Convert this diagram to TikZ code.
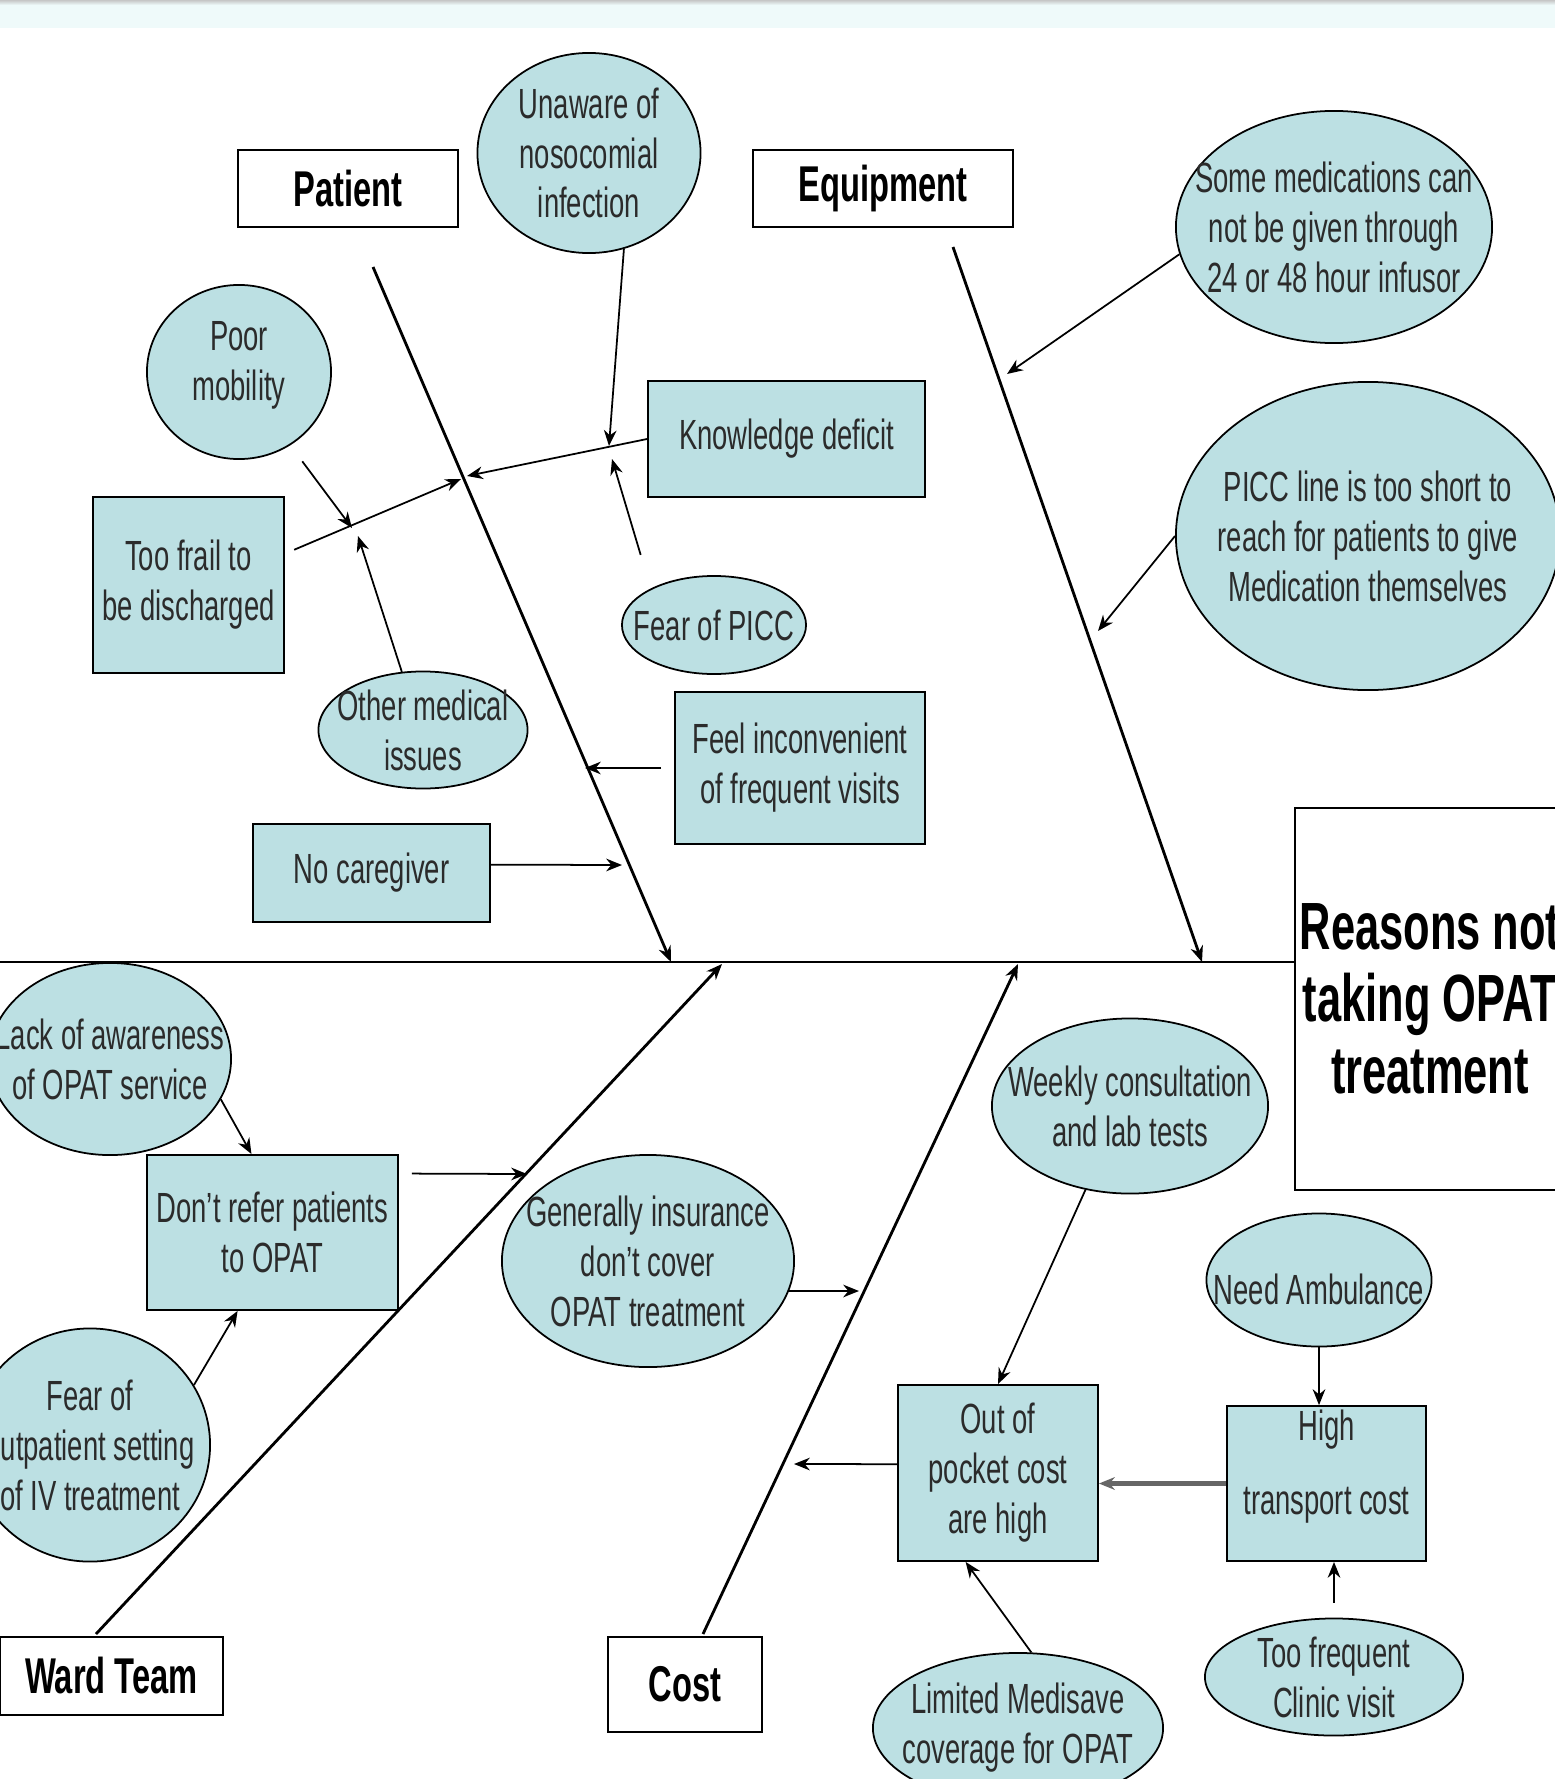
\documentclass[tikz,border=0pt]{standalone}
\usepackage{fontspec}
\setmainfont[FakeStretch=0.65]{Liberation Sans}
\usepackage{tikz}
\usetikzlibrary{shapes.geometric,arrows.meta,calc}
\definecolor{light_teal}{HTML}{BCE0E3}
\definecolor{top_band}{HTML}{EFFAFA}
\definecolor{text_grey}{HTML}{2B2B2B}

\begin{document}
\begin{tikzpicture}[x=0.01cm,y=-0.01cm,>={Stealth[length=4.5pt,width=3.6pt]},
    boite/.style={draw,line width=0.5pt,fill=light_teal,align=center,text=text_grey,font=\fontsize{12}{14.2}\selectfont,inner sep=0pt},
    bulle/.style={ellipse,draw,line width=0.5pt,fill=light_teal,align=center,text=text_grey,font=\fontsize{12}{14.2}\selectfont,inner sep=-20pt},
    categorie/.style={draw,line width=0.6pt,fill=white,font=\fontsize{14.3}{16}\selectfont\bfseries,inner sep=0pt},
    arete/.style={->,line width=0.8pt},
    fleche/.style={->,line width=0.5pt}]

    % Cadre de la page et bandeau du haut
    \useasboundingbox (0,0) rectangle (1555,1779);
    \fill[top_band] (0,0) rectangle (1555,28);
    \shade[top color=gray!45,bottom color=top_band] (0,0) rectangle (1555,5);

    % Catégories et effet
    \node[categorie,minimum width=2.19cm,minimum height=0.77cm] (patient) at (348,188.5) {Patient};
    \node[categorie,minimum width=2.6cm,minimum height=0.77cm] (equip) at (883,188.5) {Equipment};
    \node[categorie,minimum width=2.23cm,minimum height=0.78cm] (ward) at (111.5,1676) {Ward Team};
    \node[categorie,minimum width=1.54cm,minimum height=0.95cm] (cost) at (685,1684.5) {Cost};
    \node[categorie,minimum width=2.7cm,minimum height=3.82cm,align=center,font=\fontsize{19}{20.5}\selectfont\bfseries] (head) at (1430,999) {Reasons not\\taking OPAT\\treatment};

    % Arêtes principales
    \coordinate (spine_start) at (0,962);
    \coordinate (pat_top) at (373,267);
    \coordinate (pat_end) at (671,962);
    \coordinate (eq_top) at (953,247);
    \coordinate (eq_end) at (1202,962);
    \coordinate (ward_top) at (96,1634);
    \coordinate (ward_end) at (722,964);
    \coordinate (cost_top) at (703,1634);
    \coordinate (cost_end) at (1018,964);
    \draw[line width=0.8pt] (spine_start) -- (spine_start -| head.west);
    \draw[arete] (pat_top) -- (pat_end);
    \draw[arete] (eq_top) -- (eq_end);
    \draw[arete] (ward_top) -- (ward_end);
    \draw[arete] (cost_top) -- (cost_end);

    % Causes côté patient
    \node[bulle,minimum width=2.23cm,minimum height=2cm] (unaware) at (589,153) {Unaware of\\nosocomial\\infection};
    \node[boite,minimum width=2.77cm,minimum height=1.16cm] (kd) at (786.5,439) {Knowledge deficit};
    \node[bulle,minimum width=1.84cm,minimum height=0.98cm] (fearpicc) at (714,625) {Fear of PICC};
    \node[bulle,minimum width=1.84cm,minimum height=1.74cm] (mobility) at (239,372) {Poor\\mobility\\[-8pt]~};
    \node[boite,minimum width=1.91cm,minimum height=1.76cm] (frail) at (188.5,585) {Too frail to\\be discharged};
    \node[bulle,minimum width=2.09cm,minimum height=1.17cm] (othermed) at (423,730) {Other medical\\issues};
    \node[boite,minimum width=2.5cm,minimum height=1.52cm] (feel) at (800,768) {Feel inconvenient\\of frequent visits};
    \node[boite,minimum width=2.37cm,minimum height=0.98cm] (nocare) at (371.5,873) {No caregiver};

    \coordinate (kd_unaware) at (609,446);
    \coordinate (kd_fear) at (612,459);
    \coordinate (pat_kd) at (467,476);
    \coordinate (pat_frail) at (461,479);
    \coordinate (frail_mob) at (352,528);
    \coordinate (frail_oth) at (358,536);
    \coordinate (pat_feel) at (585,768);
    \coordinate (pat_care) at (622,865);
    \draw[fleche] (unaware.-70) -- (kd_unaware);
    \draw[fleche,shorten <=3.5mm] (fearpicc.150) -- (kd_fear);
    \draw[fleche] (kd.west) -- (pat_kd);
    \draw[fleche,shorten <=1mm] (frail.18) -- (pat_frail);
    \draw[fleche,shorten <=2mm] (mobility.-55) -- (frail_mob);
    \draw[fleche] (othermed.110) -- (frail_oth);
    \draw[fleche,shorten <=1.3mm] (feel.west) -- (pat_feel);
    \draw[fleche] (nocare.4) -- (pat_care);

    % Causes côté équipement
    \node[bulle,minimum width=3.16cm,minimum height=2.32cm] (somemed) at (1334,227) {Some medications can\\not be given through\\24 or 48 hour infusor};
    \node[bulle,minimum width=3.84cm,minimum height=3.08cm] (picc) at (1368,536) {PICC line is too short to\\reach for patients to give\\Medication themselves};
    \coordinate (eq_some) at (1007,374);
    \coordinate (eq_picc) at (1098,631);
    \draw[fleche] (somemed.190) -- (eq_some);
    \draw[fleche] (picc.west) -- (eq_picc);

    % Causes côté équipe de service
    \node[bulle,minimum width=2.42cm,minimum height=1.92cm] (lack) at (110,1059) {Lack of awareness\\of OPAT service};
    \node[boite,minimum width=2.51cm,minimum height=1.55cm] (refer) at (272.5,1232.5) {Don't refer patients\\to OPAT};
    \node[bulle,minimum width=2.4cm,minimum height=2.33cm] (fearout) at (90,1445) {Fear of\\outpatient setting\\of IV treatment};
    \coordinate (ward_refer) at (527,1174);
    \draw[fleche] (lack.-20) -- (refer.105);
    \draw[fleche] (fearout.30) -- (refer.246);
    \draw[fleche,shorten <=1.3mm] (refer.25) -- (ward_refer);

    % Causes côté coût
    \node[bulle,minimum width=2.92cm,minimum height=2.12cm] (insur) at (648,1261) {Generally insurance\\don't cover\\OPAT treatment};
    \node[bulle,minimum width=2.76cm,minimum height=1.75cm] (weekly) at (1130,1106) {Weekly consultation\\and lab tests};
    \node[boite,minimum width=2cm,minimum height=1.76cm] (pocket) at (998,1473) {Out of\\pocket cost\\are high};
    \node[bulle,minimum width=2.25cm,minimum height=1.33cm] (ambul) at (1319,1280) {\raisebox{-4pt}[8.6pt][2.5pt]{Need Ambulance}};
    \node[boite,minimum width=1.99cm,minimum height=1.55cm] (transport) at (1326.5,1483.5) {High\\[7pt]transport cost\\[-2pt]~};
    \node[bulle,minimum width=2.58cm,minimum height=1.17cm] (frequent) at (1334,1677) {Too frequent\\Clinic visit};
    \node[bulle,minimum width=2.9cm,minimum height=1.5cm] (medisave) at (1018,1728) {Limited Medisave\\coverage for OPAT};
    \coordinate (cost_insur) at (859,1291);
    \coordinate (cost_pocket) at (794,1464);
    \draw[fleche] (insur.-12) -- (cost_insur);
    \draw[fleche] (weekly.242) -- (pocket.north);
    \draw[fleche] (pocket.175) -- (cost_pocket);
    \draw[fleche] (ambul.south) -- (ambul.south |- transport.north);
    \draw[->,gray!80!black,line width=1.3pt] (transport.west) -- (transport.west -| pocket.east);
    \draw[fleche,shorten <=1.5mm] (frequent.north) -- (frequent.north |- transport.south);
    \draw[fleche] (medisave.80) -- (pocket.250);
  \end{tikzpicture}
\end{document}
